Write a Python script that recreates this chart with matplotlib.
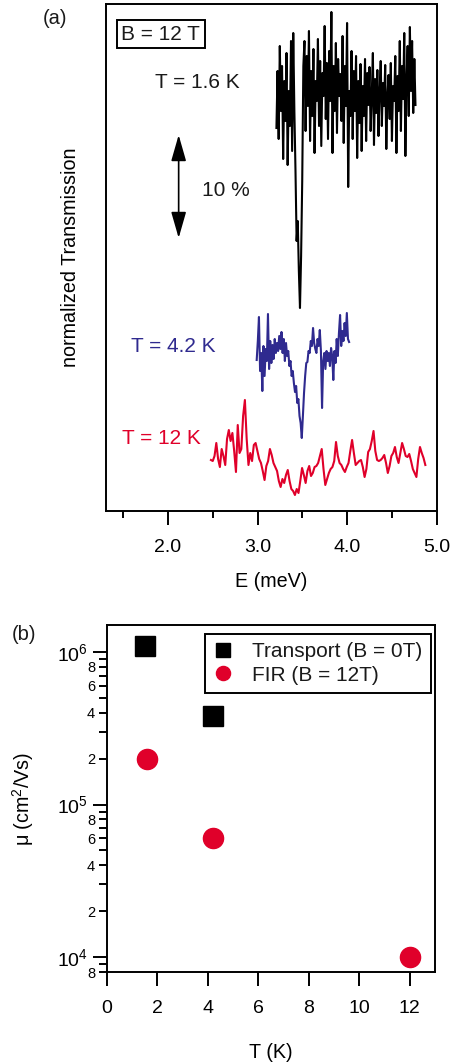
import numpy as np
import matplotlib
matplotlib.use('Agg')
import matplotlib.pyplot as plt
from matplotlib.ticker import LogLocator, FuncFormatter, MultipleLocator, FormatStrFormatter

plt.rcParams['font.family'] = ['Liberation Sans', 'DejaVu Sans']
plt.rcParams['mathtext.fontset'] = 'custom'
plt.rcParams['mathtext.rm'] = 'Liberation Sans'
plt.rcParams['mathtext.it'] = 'Liberation Sans:italic'
plt.rcParams['mathtext.bf'] = 'Liberation Sans:bold'
plt.rcParams['text.color'] = '#1a1a1a'

BLUE = '#2f2a8f'
RED = '#e0002a'

# (a) transmission traces (offset, arbitrary units; 10 % ~ 103 units)
e_range_16 = (3.21, 4.76)
tr_16 = [383, 440, 372, 465, 400, 445, 352, 430, 390, 458, 346, 420, 385, 470, 360, 478,
         400, 340, 270, 290, 240, 203, 255, 330,
         445, 470, 380, 455, 405, 480, 370, 440, 395, 462, 358, 430, 410, 472, 385, 450,
         365, 438, 415, 485, 392, 448, 372, 460, 410, 499, 358, 445, 400, 468, 378, 452,
         415, 437, 390, 475, 368, 445, 405, 488, 324,
         420, 395, 460, 372, 440, 400, 455, 353, 430, 388, 447, 360, 425, 395, 452, 370,
         438, 406, 444, 380, 415, 458, 366, 432, 398, 441, 375, 420, 450, 385, 428, 405,
         446, 362, 415, 436, 392, 448, 370, 425, 410, 455, 358, 435, 400, 470, 380, 445,
         412, 478, 355, 430, 465, 395, 484, 420, 470, 398, 452, 406]

e_range_42 = (2.99, 4.02)
tr_42 = [151, 170, 194, 140, 158, 120, 165, 135, 162, 150, 197, 142, 170, 148, 166, 152,
         172, 158, 168, 160, 175, 162, 179, 158, 172, 150, 168, 155, 160, 145, 150, 135,
         140, 128, 119, 125, 108, 112, 95, 88, 73, 95, 118, 135, 148, 149, 160, 158,
         170, 165, 183, 168, 162, 158, 172, 165, 181, 160, 103, 150, 158, 142, 160, 150,
         158, 145, 163, 155, 131, 160, 148, 172, 155, 178, 196, 165, 180, 170, 188, 175,
         198, 172, 169]

e_range_12 = (2.48, 4.87)
tr_12 = [51, 50, 55, 68, 52, 44, 62, 55, 46, 72, 81, 70, 78, 60, 39, 86, 58, 62, 95, 111,
         72, 46, 58, 50, 66, 68, 60, 52, 48, 40, 31, 45, 50, 62, 56, 48, 44, 40, 30, 24,
         32, 28, 36, 41, 30, 22, 20, 16, 22, 18, 30, 43, 36, 28, 40, 45, 35, 38, 44, 45,
         48, 55, 62, 42, 26, 32, 38, 42, 44, 50, 69, 55, 48, 46, 42, 39, 44, 48, 60, 71,
         58, 46, 48, 50, 51, 44, 34, 42, 59, 62, 70, 80, 60, 51, 50, 51, 53, 56, 48, 38,
         45, 55, 58, 64, 54, 48, 58, 68, 62, 55, 54, 57, 50, 42, 38, 34, 52, 64, 58, 53, 46]

# (b) mobility vs temperature
T_transport = [1.5, 4.2]
mu_transport = [1.1e6, 3.8e5]
T_fir = [1.6, 4.2, 12.0]
mu_fir = [2.0e5, 6.0e4, 1.0e4]

fig = plt.figure(figsize=(4.5, 10.62), dpi=100)
ax1 = fig.add_axes([106/450, 1-511/1062, 331/450, 507/1062])
ax2 = fig.add_axes([107/450, 1-972/1062, 328/450, 347/1062])

SPW = 1.4

# ---- panel (a)
ax1.plot(np.linspace(*e_range_16, len(tr_16)), tr_16, color='black', lw=1.5)
ax1.plot(np.linspace(*e_range_42, len(tr_42)), tr_42, color=BLUE, lw=1.5)
ax1.plot(np.linspace(*e_range_12, len(tr_12)), tr_12, color=RED, lw=1.5)
ax1.set_xlim(1.31, 5.0)
ax1.set_ylim(0, 507)
ax1.set_yticks([])
ax1.xaxis.set_major_locator(MultipleLocator(1.0))
ax1.xaxis.set_minor_locator(MultipleLocator(0.5))
ax1.xaxis.set_major_formatter(FormatStrFormatter('%.1f'))
ax1.tick_params(axis='x', which='major', direction='out', length=10, width=SPW, labelsize=14, pad=10)
ax1.tick_params(axis='x', which='minor', direction='out', length=5, width=SPW)
for s in ax1.spines.values():
    s.set_linewidth(SPW)
ax1.set_xlabel('E (meV)', fontsize=14.2)
ax1.xaxis.set_label_coords(0.5, -0.121)
ax1.set_ylabel('normalized Transmission', fontsize=14.2)
ax1.yaxis.set_label_coords(-0.08, 0.5)

ax1.text(1.92, 477, 'B = 12 T', fontsize=15, ha='center', va='center',
         bbox=dict(boxstyle='square,pad=0.22', fc='white', ec='black', lw=SPW))
ax1.text(1.855, 429, 'T = 1.6 K', fontsize=15, ha='left', va='center')
ax1.text(2.38, 321, '10 %', fontsize=15, ha='left', va='center')
ax1.annotate('', xy=(2.12, 376), xytext=(2.12, 273),
             arrowprops=dict(arrowstyle='<|-|>,head_length=1.15,head_width=0.33',
                             mutation_scale=14, color='black', lw=1.2,
                             shrinkA=0, shrinkB=0))
ax1.text(1.594, 165, 'T = 4.2 K', fontsize=15, ha='left', va='center', color=BLUE)
ax1.text(1.483, 72, 'T = 12 K', fontsize=15, ha='left', va='center', color=RED)
fig.text(55/450, 1-18/1062, '(a)', fontsize=14.5, ha='center', va='center')

# ---- panel (b)
ax2.plot(T_transport, mu_transport, 's', color='black', ms=14, ls='none',
         label='Transport (B = 0T)')
ax2.plot(T_fir, mu_fir, 'o', color=RED, ms=14.5, ls='none', mec=RED,
         label='FIR (B = 12T)')
ax2.set_yscale('log')
ax2.set_xlim(0, 13)
ax2.set_ylim(8e3, 1.5e6)
ax2.xaxis.set_major_locator(MultipleLocator(2))
ax2.yaxis.set_major_locator(LogLocator(base=10, numticks=10))
ax2.yaxis.set_minor_locator(LogLocator(base=10, subs=np.arange(2, 10), numticks=20))


def minor_label(v, pos):
    m = int(round(v / 10 ** np.floor(np.log10(v) + 1e-9)))
    return str(m) if m in (2, 4, 6, 8) else ''


ax2.yaxis.set_minor_formatter(FuncFormatter(minor_label))
ax2.tick_params(axis='both', which='major', direction='out', length=10, width=SPW, labelsize=14)
ax2.tick_params(axis='x', which='major', pad=10)
ax2.tick_params(axis='y', which='major', pad=3.5)
ax2.tick_params(axis='y', which='minor', direction='out', length=5.5, width=SPW,
                labelsize=10.5, pad=3)
for s in ax2.spines.values():
    s.set_linewidth(SPW)
ax2.set_xlabel('T (K)', fontsize=14.2)
ax2.xaxis.set_label_coords(0.5, -0.2035)
ax2.set_ylabel(r'μ (cm$^2$/Vs)', fontsize=14.2)
ax2.yaxis.set_label_coords(-0.215, 0.5)
leg = ax2.legend(loc='upper right', bbox_to_anchor=(0.988, 0.974), borderaxespad=0,
                 fontsize=15, markerscale=0.7, fancybox=False, edgecolor='black',
                 framealpha=1, handlelength=1.0, handletextpad=0.9, labelspacing=0.2,
                 borderpad=0.4)
leg.get_frame().set_linewidth(SPW)
fig.text(24/450, 1-635/1062, '(b)', fontsize=14.5, ha='center', va='center')

fig.savefig('out.png', dpi=100)
